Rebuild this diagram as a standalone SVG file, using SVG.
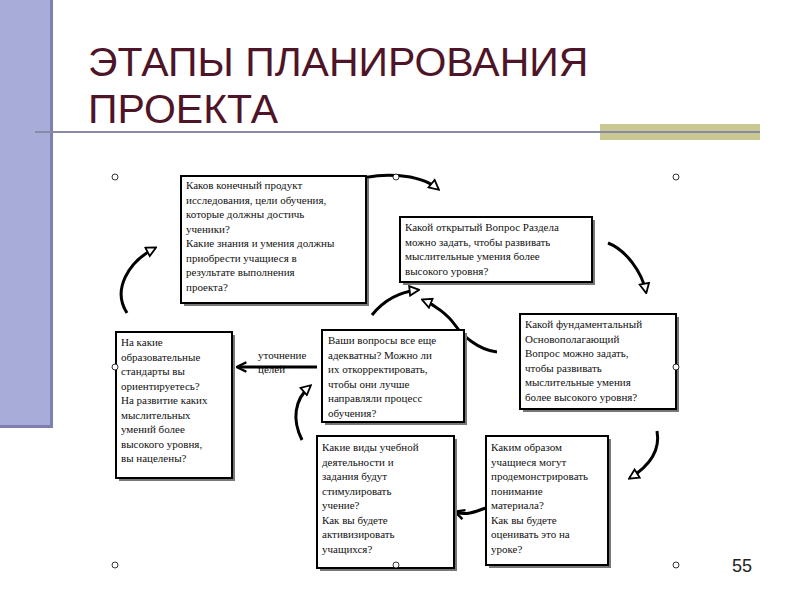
<svg xmlns="http://www.w3.org/2000/svg" width="800" height="600" viewBox="0 0 800 600">
<style>
.box{fill:#fff;stroke:#000;stroke-width:2}
.sh{fill:#777}
.t{font-family:"Liberation Serif","DejaVu Serif",serif;font-size:11px;fill:#111}
.c{fill:none;stroke:#000;stroke-width:3}
.h{fill:#fff;stroke:#000;stroke-width:0.8}
</style>
<defs>
<marker id="a" viewBox="0 0 10 10" refX="8" refY="5" markerWidth="4" markerHeight="4" orient="auto" markerUnits="strokeWidth">
<path d="M1,1 L9,5 L1,9 Z" fill="#fff" stroke="#000" stroke-width="1.5"/>
</marker>
<marker id="b" viewBox="0 0 10 10" refX="8" refY="5" markerWidth="4" markerHeight="4" orient="auto" markerUnits="strokeWidth">
<path d="M1,1 L9,5 L1,9" fill="none" stroke="#000" stroke-width="2"/>
</marker>
</defs>
<rect width="800" height="600" fill="#fff"/>
<rect x="0" y="0" width="52" height="425" fill="#a8acd8"/>
<rect x="50" y="0" width="3" height="428" fill="#7d80b0"/>
<rect x="0" y="425" width="53" height="3" fill="#7d80b0"/>
<rect x="600" y="124" width="160" height="16" fill="#c8c890"/>
<line x1="35" y1="132" x2="760" y2="132" stroke="#8a8aa8" stroke-width="2"/>
<text x="88" y="76" font-family="Liberation Sans,sans-serif" font-size="41" fill="#4e1428">ЭТАПЫ ПЛАНИРОВАНИЯ</text>
<text x="88" y="123" font-family="Liberation Sans,sans-serif" font-size="41" fill="#4e1428">ПРОЕКТА</text>
<text x="752" y="572" font-family="Liberation Sans,sans-serif" font-size="18" fill="#222" text-anchor="end">55</text>

<g id="connectors">
<path class="c" d="M127,313 C112,290 128,262 155,248" marker-end="url(#a)"/>
<path class="c" d="M346,183 C380,170 420,174 438,189" stroke-width="2" marker-end="url(#a)"/>
<path class="c" d="M608,243 C626,250 642,272 646,292" marker-end="url(#a)"/>
<path class="c" d="M372,315 C384,300 398,292 418,290" marker-end="url(#a)"/>
<path class="c" d="M497,352 C478,350 462,335 455,325 C448,315 435,305 423,300" stroke-width="2" marker-end="url(#a)"/>
<path class="c" d="M302,440 C292,420 294,400 310,386" stroke-width="2" marker-end="url(#a)"/>
<path class="c" d="M657,431 C661,453 646,468 630,478" stroke-width="2" marker-end="url(#a)"/>
<path class="c" d="M486,508 C476,511 468,516 456,512" marker-end="url(#b)"/>
<line class="c" x1="317" y1="367" x2="238" y2="367" stroke-width="2" marker-end="url(#b)"/>
<text class="t" x="258" y="359">уточнение</text>
<text class="t" x="258" y="373">целей</text>
</g>

<g id="n1"><rect class="sh" x="184" y="179" width="185" height="127"/><rect class="box" x="181" y="176" width="185" height="127"/>
<text class="t" x="186" y="189"><tspan x="186">Каков конечный продукт</tspan><tspan x="186" dy="14.5">исследования, цели обучения,</tspan><tspan x="186" dy="14.5">которые должны достичь</tspan><tspan x="186" dy="14.5">ученики?</tspan><tspan x="186" dy="14.5">Какие знания и умения должны</tspan><tspan x="186" dy="14.5">приобрести учащиеся в</tspan><tspan x="186" dy="14.5">результате выполнения</tspan><tspan x="186" dy="14.5">проекта?</tspan></text></g>

<g id="n2"><rect class="sh" x="403" y="220" width="192" height="65"/><rect class="box" x="400" y="217" width="192" height="65"/>
<text class="t" x="405" y="231"><tspan x="405">Какой открытый Вопрос Раздела</tspan><tspan x="405" dy="14.5">можно задать, чтобы развивать</tspan><tspan x="405" dy="14.5">мыслительные умения более</tspan><tspan x="405" dy="14.5">высокого уровня?</tspan></text></g>

<g id="n3"><rect class="sh" x="523" y="317" width="156" height="95"/><rect class="box" x="520" y="314" width="156" height="95"/>
<text class="t" x="525" y="328"><tspan x="525">Какой фундаментальный</tspan><tspan x="525" dy="14.5">Основополагающий</tspan><tspan x="525" dy="14.5">Вопрос можно задать,</tspan><tspan x="525" dy="14.5">чтобы развивать</tspan><tspan x="525" dy="14.5">мыслительные умения</tspan><tspan x="525" dy="14.5">более высокого уровня?</tspan></text></g>

<g id="n4"><rect class="sh" x="325" y="333" width="142" height="92"/><rect class="box" x="322" y="330" width="142" height="92"/>
<text class="t" x="328" y="344"><tspan x="328">Ваши вопросы все еще</tspan><tspan x="328" dy="14.5">адекватны? Можно ли</tspan><tspan x="328" dy="14.5">их откорректировать,</tspan><tspan x="328" dy="14.5">чтобы они лучше</tspan><tspan x="328" dy="14.5">направляли процесс</tspan><tspan x="328" dy="14.5">обучения?</tspan></text></g>

<g id="n5"><rect class="sh" x="119" y="335" width="116" height="146"/><rect class="box" x="116" y="332" width="116" height="146"/>
<text class="t" x="121" y="346"><tspan x="121">На какие</tspan><tspan x="121" dy="14.5">образовательные</tspan><tspan x="121" dy="14.5">стандарты вы</tspan><tspan x="121" dy="14.5">ориентируетесь?</tspan><tspan x="121" dy="14.5">На развитие каких</tspan><tspan x="121" dy="14.5">мыслительных</tspan><tspan x="121" dy="14.5">умений более</tspan><tspan x="121" dy="14.5">высокого уровня,</tspan><tspan x="121" dy="14.5">вы нацелены?</tspan></text></g>

<g id="n6"><rect class="sh" x="320" y="439" width="137" height="132"/><rect class="box" x="317" y="436" width="137" height="132"/>
<text class="t" x="322" y="451"><tspan x="322">Какие виды учебной</tspan><tspan x="322" dy="14.5">деятельности и</tspan><tspan x="322" dy="14.5">задания будут</tspan><tspan x="322" dy="14.5">стимулировать</tspan><tspan x="322" dy="14.5">учение?</tspan><tspan x="322" dy="14.5">Как вы будете</tspan><tspan x="322" dy="14.5">активизировать</tspan><tspan x="322" dy="14.5">учащихся?</tspan></text></g>

<g id="n7"><rect class="sh" x="489" y="439" width="122" height="129"/><rect class="box" x="486" y="436" width="122" height="129"/>
<text class="t" x="491" y="451"><tspan x="491">Каким образом</tspan><tspan x="491" dy="14.5">учащиеся могут</tspan><tspan x="491" dy="14.5">продемонстрировать</tspan><tspan x="491" dy="14.5">понимание</tspan><tspan x="491" dy="14.5">материала?</tspan><tspan x="491" dy="14.5">Как вы будете</tspan><tspan x="491" dy="14.5">оценивать это на</tspan><tspan x="491" dy="14.5">уроке?</tspan></text></g>

<g id="handles">
<circle class="h" cx="115" cy="177" r="3"/><circle class="h" cx="396" cy="177" r="3"/><circle class="h" cx="676" cy="177" r="3"/>
<circle class="h" cx="115" cy="367" r="3"/><circle class="h" cx="676" cy="367" r="3"/>
<circle class="h" cx="115" cy="565" r="3"/><circle class="h" cx="396" cy="565" r="3"/><circle class="h" cx="676" cy="565" r="3"/>
</g>
</svg>
